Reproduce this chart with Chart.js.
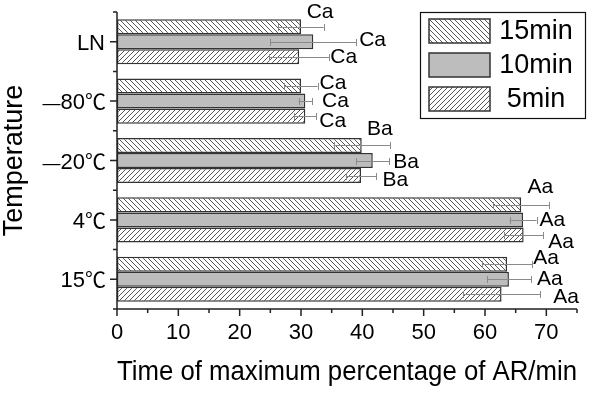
<!DOCTYPE html>
<html><head><meta charset="utf-8">
<script src="https://cdn.jsdelivr.net/npm/chart.js@4/dist/chart.umd.min.js"></script>
<style>html,body{margin:0;padding:0;background:#fff}#wrap{width:590px;height:393px}</style>
</head><body><div id="wrap"><canvas id="c" width="590" height="393"></canvas></div>
<script>
const categories = ['LN', '\u201480\u2103', '\u201420\u2103', '4\u2103', '15\u2103'];
const seriesNames = ['15min', '10min', '5min'];
const values15 = [30.0, 30.0, 39.9, 65.9, 63.6];
const values10 = [32.0, 30.7, 41.7, 66.2, 63.9];
const values5  = [29.7, 30.7, 39.8, 66.3, 62.7];
const err15 = [3.7, 2.7, 4.6, 4.6, 4.1];
const err10 = [7.0, 1.1, 2.7, 2.2, 3.6];
const err5  = [4.9, 1.8, 2.5, 3.2, 6.3];
const labels15 = ['Ca', 'Ca', 'Ba', 'Aa', 'Aa'];
const labels10 = ['Ca', 'Ca', 'Ba', 'Aa', 'Aa'];
const labels5  = ['Ca', 'Ca', 'Ba', 'Aa', 'Aa'];
const xTickValues = [0, 10, 20, 30, 40, 50, 60, 70];

// label nudges in pixels (style only)
const nudge15 = [[-17,-15],[2,-3],[-23,-16],[-22,-18],[1,-6]];
const nudge10 = [[3,-2],[10,0],[4,1],[3,0],[6,0]];
const nudge5  = [[1,0],[3,5],[6,4],[5,7],[13,3]];

function hatch(dir) {
  const s = 5, c = document.createElement('canvas');
  c.width = s; c.height = s;
  const g = c.getContext('2d');
  g.fillStyle = '#fff'; g.fillRect(0,0,s,s);
  g.strokeStyle = '#444'; g.lineWidth = 0.9;
  for (const k of [-s, 0, s]) {
    g.beginPath();
    if (dir === 'back') { g.moveTo(k, 0); g.lineTo(k + s, s); }
    else { g.moveTo(k, s); g.lineTo(k + s, 0); }
    g.stroke();
  }
  return g.createPattern(c, 'repeat');
}
const fills = [hatch('back'), '#bdbdbd', hatch('fwd')];
const errs = [err15, err10, err5];
const lbls = [labels15, labels10, labels5];
const nudges = [nudge15, nudge10, nudge5];
const FONT = '"Liberation Sans", Arial, sans-serif';
const CJK = '"Noto Sans CJK SC", sans-serif';

const extras = {
  id: 'extras',
  afterDatasetsDraw(chart) {
    const ctx = chart.ctx, xs = chart.scales.x, ys = chart.scales.y;
    ctx.save();
    chart.data.datasets.forEach((ds, di) => {
      const meta = chart.getDatasetMeta(di);
      meta.data.forEach((bar, i) => {
        const v = ds.data[i], e = errs[di][i];
        const x1 = xs.getPixelForValue(v - e), x2 = xs.getPixelForValue(v + e);
        const y = Math.round(bar.y);
        ctx.strokeStyle = '#8a8a8a'; ctx.lineWidth = 1;
        ctx.beginPath();
        ctx.moveTo(x1, y + 0.5); ctx.lineTo(x2, y + 0.5);
        ctx.moveTo(Math.round(x1) + 0.5, y - 3); ctx.lineTo(Math.round(x1) + 0.5, y + 4);
        ctx.moveTo(Math.round(x2) + 0.5, y - 3); ctx.lineTo(Math.round(x2) + 0.5, y + 4);
        ctx.stroke();
        ctx.fillStyle = '#000';
        ctx.font = '21px ' + FONT;
        ctx.textAlign = 'left'; ctx.textBaseline = 'middle';
        const n = nudges[di][i];
        ctx.fillText(lbls[di][i], x2 + n[0], y + n[1]);
      });
    });
    // category tick labels (mixed fonts for the degree sign)
    ctx.fillStyle = '#000';
    ctx.textAlign = 'right'; ctx.textBaseline = 'alphabetic';
    categories.forEach((c, i) => {
      const base = ys.getPixelForValue(i) + 8;
      let x = 105;
      let t = c;
      if (t.endsWith('\u2103')) {
        ctx.font = '21px ' + CJK;
        ctx.fillText('\u2103', x + 1, base);
        x -= ctx.measureText('\u2103').width - 1;
        t = t.slice(0, -1);
      }
      let dash = '';
      if (t.startsWith('\u2014')) { dash = '\u2014'; t = t.slice(1); }
      ctx.font = '22px ' + FONT;
      ctx.fillText(t, x, base);
      x -= ctx.measureText(t).width;
      if (dash) {
        ctx.font = '18px ' + FONT;
        ctx.fillText(dash, x, base);
      }
    });
    ctx.strokeStyle = '#222'; ctx.lineWidth = 1.5;
    const L = chart.chartArea.left, B = chart.chartArea.bottom, T = chart.chartArea.top, R = xs.getPixelForValue(75);
    ctx.beginPath();
    ctx.moveTo(L, T); ctx.lineTo(L, B); ctx.lineTo(R, B);
    for (let v = 0; v <= 75; v += 5) {
      const x = xs.getPixelForValue(v);
      ctx.moveTo(x, B); ctx.lineTo(x, B + (v % 10 === 0 ? 7 : 4));
    }
    categories.forEach((c, i) => {
      const y = ys.getPixelForValue(i);
      ctx.moveTo(L, y); ctx.lineTo(L - 7, y);
    });
    for (let i = 0; i <= categories.length; i++) {
      const y = ys.getPixelForValue(i - 0.5);
      ctx.moveTo(L, y); ctx.lineTo(L - 4, y);
    }
    ctx.stroke();
    const lx = 420, ly = 12, lw = 165, lh = 106;
    ctx.lineWidth = 1.2; ctx.strokeStyle = '#111';
    ctx.fillStyle = '#fff';
    ctx.fillRect(lx, ly, lw, lh);
    ctx.strokeRect(lx + 0.5, ly + 0.5, lw, lh);
    seriesNames.forEach((name, k) => {
      const sy = 19 + k * 34;
      ctx.fillStyle = fills[k];
      ctx.fillRect(429, sy, 61, 24);
      ctx.lineWidth = 1.5; ctx.strokeStyle = '#333';
      ctx.strokeRect(429, sy, 61, 24);
      ctx.fillStyle = '#000';
      ctx.font = '27px ' + FONT;
      ctx.textAlign = 'center'; ctx.textBaseline = 'middle';
      ctx.fillText(name, 536, sy + 13);
    });
    ctx.restore();
  }
};

new Chart(document.getElementById('c'), {
  type: 'bar',
  data: {
    labels: categories,
    datasets: [
      { label: seriesNames[0], data: values15, backgroundColor: fills[0] },
      { label: seriesNames[1], data: values10, backgroundColor: fills[1] },
      { label: seriesNames[2], data: values5, backgroundColor: fills[2] }
    ].map(d => Object.assign(d, { borderColor: '#333', borderWidth: 1.5, borderSkipped: false,
      categoryPercentage: 0.76, barPercentage: 1.0 }))
  },
  options: {
    indexAxis: 'y',
    responsive: false,
    animation: false,
    devicePixelRatio: 1,
    layout: { padding: { left: 0, top: 12, right: 13, bottom: 0 } },
    plugins: { legend: { display: false }, tooltip: { enabled: false } },
    scales: {
      x: {
        min: 0, max: 75,
        afterFit: s => { s.height = 84; s.paddingLeft = 0; s.paddingRight = 0; },
        afterBuildTicks: s => { s.ticks = xTickValues.map(v => ({ value: v })); },
        grid: { display: false, drawTicks: false },
        border: { display: false },
        ticks: { color: '#000', padding: 11, maxRotation: 0, autoSkip: false,
          font: { family: FONT, size: 22 } },
        title: { display: true, text: 'Time of maximum percentage of AR/min', color: '#000',
          font: { family: FONT, size: 27, lineHeight: 1 }, padding: { top: 0, bottom: 7 } }
      },
      y: {
        afterFit: s => { s.width = 117; s.paddingTop = 0; s.paddingBottom = 0; },
        grid: { display: false, drawTicks: false },
        border: { display: false },
        ticks: { display: false },
        title: { display: true, text: 'Temperature', color: '#000',
          font: { family: FONT, size: 27, lineHeight: 1 }, padding: { top: 1, bottom: 0 } }
      }
    }
  },
  plugins: [extras]
});
</script></body></html>
